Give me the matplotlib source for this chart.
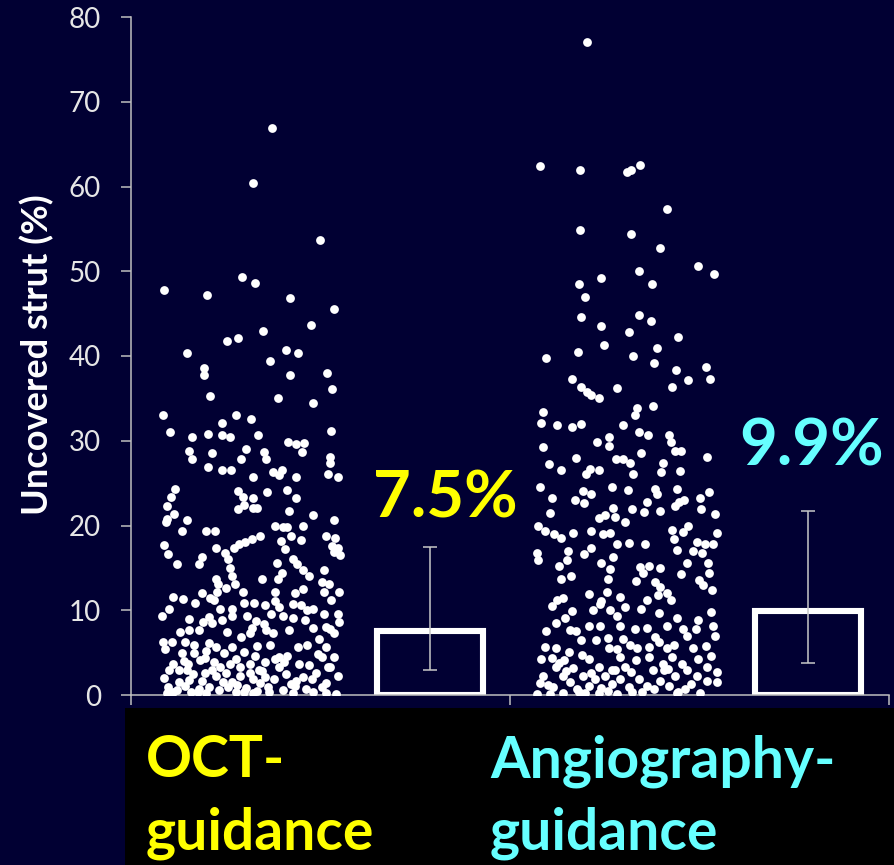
import matplotlib
matplotlib.use("Agg")
import matplotlib.pyplot as plt
from matplotlib.patches import Rectangle

# ---------------- data ----------------
categories = ["OCT-\nguidance", "Angiography-\nguidance"]
bar_values = [7.5, 9.9]
bar_labels = ["7.5%", "9.9%"]
err_low = [2.9, 3.8]
err_high = [17.5, 21.7]
y_ticks = [0, 10, 20, 30, 40, 50, 60, 70, 80]

# OCT-guidance individual values (jitter position within strip 0..1, value %)
oct_jitter = [
    0.617, 0.506, 0.885, 0.446, 0.520, 0.013, 0.252, 0.715, 0.959, 0.833, 0.565, 0.422, 0.363,
    0.141, 0.691, 0.759, 0.604, 0.237, 0.237, 0.715, 0.922, 0.952, 0.267, 0.646,
    0.846, 0.004, 0.415, 0.498, 0.333, 0.944, 0.044, 0.170, 0.254, 0.337, 0.381, 0.535, 0.706,
    0.750, 0.794, 0.780, 0.469, 0.148, 0.281, 0.570, 0.170, 0.443, 0.580, 0.939, 0.939, 0.259,
    0.333, 0.385, 0.619, 0.670, 0.656, 0.928, 0.981, 0.507, 0.750,
    0.074, 0.052, 0.426, 0.589, 0.700, 0.452, 0.507, 0.748, 0.030, 0.459, 0.507, 0.530, 0.426,
    0.707, 0.067, 0.026, 0.022, 0.141, 0.841, 0.959, 0.111, 0.244, 0.296, 0.633, 0.678, 0.700,
    0.787, 0.548, 0.504, 0.463, 0.430, 0.719, 0.774, 0.915, 0.967, 0.663, 0.011, 0.300, 0.400,
    0.685, 0.952, 0.985, 0.963, 0.033, 0.352, 0.996, 0.222, 0.370, 0.733, 0.081, 0.207, 0.644,
    0.752, 0.381, 0.785, 0.670, 0.907, 0.300, 0.393, 0.556, 0.648, 0.819, 0.893, 0.315, 0.407,
    0.933, 0.907, 0.359, 0.307, 0.452, 0.630, 0.789, 0.744, 0.989, 0.059, 0.119, 0.222, 0.267,
    0.289, 0.185, 0.456, 0.515, 0.574, 0.633, 0.656, 0.730, 0.778, 0.811, 0.841, 0.944, 0.041,
    0.322, 0.389, 0.000, 0.148, 0.263, 0.337, 0.389, 0.474, 0.526, 0.567, 0.611, 0.674, 0.730,
    0.800, 0.907, 0.985, 0.226, 0.278, 0.989, 0.504, 0.489, 0.100, 0.152, 0.207, 0.363, 0.441,
    0.581, 0.622, 0.707, 0.841, 0.915, 0.963, 0.941,
    0.007, 0.056, 0.130, 0.181, 0.263, 0.304, 0.393, 0.530, 0.604, 0.759, 0.811, 0.878, 0.915,
    0.015, 0.111, 0.178, 0.248, 0.348, 0.456, 0.522, 0.652, 0.700, 0.874, 0.963, 0.063, 0.144,
    0.211, 0.289, 0.378, 0.411, 0.489, 0.578, 0.633, 0.822, 0.896, 0.926, 0.011, 0.041, 0.096,
    0.174, 0.241, 0.304, 0.359, 0.433, 0.507, 0.574, 0.626, 0.693, 0.785, 0.837, 0.981, 0.941,
    0.033, 0.081, 0.126, 0.159, 0.204, 0.263, 0.319, 0.370, 0.415, 0.470, 0.530, 0.593, 0.674,
    0.741, 0.804, 0.841, 0.970, 0.093, 0.222, 0.389, 0.548, 0.748, 0.915, 0.893,
    0.063, 0.248, 0.340, 0.137, 0.489, 0.656, 0.433, 0.322, 0.767, 0.730, 0.915, 0.507, 0.026,
    0.150, 0.200, 0.280, 0.420, 0.560, 0.600, 0.720, 0.860, 0.120, 0.240, 0.460, 0.540, 0.680,
]
oct_values = [
    66.9, 60.4, 53.7, 49.3, 48.6, 47.8, 47.2, 46.8, 45.5, 43.6, 43.0, 42.1, 41.8,
    40.3, 40.7, 40.3, 39.4, 38.6, 37.8, 37.8, 38.0, 36.1, 35.3, 35.0,
    34.4, 33.0, 33.0, 32.6, 32.1, 31.1, 31.0, 30.4, 30.8, 30.7, 30.5, 30.7, 29.9,
    29.6, 29.7, 28.7, 29.0, 28.8, 28.5, 28.7, 27.8, 27.8, 27.8, 28.1, 27.4, 26.9,
    26.5, 26.5, 26.3, 26.6, 25.9, 26.1, 25.7, 25.7, 25.7,
    24.3, 23.4, 24.1, 23.9, 24.2, 23.4, 23.3, 23.3, 22.3, 22.4, 22.1, 22.1, 21.9,
    21.7, 21.3, 20.8, 20.4, 20.7, 21.2, 20.6, 19.3, 19.3, 19.3, 19.9, 19.8, 19.8,
    19.9, 18.8, 18.4, 18.0, 17.8, 18.8, 18.3, 18.8, 18.5, 18.2, 17.7, 17.4, 17.3,
    17.2, 17.6, 17.3, 16.9, 16.6, 16.7, 16.5, 16.3, 16.0, 16.0, 15.5, 15.5, 15.6,
    15.4, 15.0, 14.8, 14.4, 14.8, 13.7, 14.1, 13.7, 13.7, 14.1, 13.3, 13.1, 13.1,
    13.1, 12.2, 12.6, 12.1, 12.1, 12.1, 12.5, 12.0, 12.1, 11.6, 11.3, 12.0, 11.5,
    11.2, 10.8, 10.9, 10.9, 10.6, 11.1, 10.4, 10.7, 10.6, 10.0, 10.2, 11.2, 10.2,
    10.1, 10.2, 9.3, 9.0, 9.2, 8.9, 9.3, 9.3, 8.7, 8.4, 9.6, 9.3, 9.1,
    8.9, 9.5, 9.6, 8.6, 8.5, 8.6, 7.9, 7.3, 7.4, 7.7, 7.7, 7.4, 6.8,
    7.7, 7.3, 7.7, 7.9, 8.0, 7.3, 7.8,
    6.3, 6.2, 6.2, 5.9, 6.1, 5.7, 5.7, 5.8, 5.9, 5.7, 5.9, 6.6, 5.7,
    5.4, 4.9, 4.9, 5.2, 4.9, 5.1, 4.6, 4.5, 4.6, 4.8, 4.5, 3.7, 3.7,
    4.1, 3.9, 3.7, 4.2, 3.7, 3.9, 4.3, 3.5, 4.5, 3.3, 2.0, 2.9, 3.0,
    2.5, 2.6, 2.2, 2.6, 2.2, 1.9, 2.1, 1.9, 2.5, 2.1, 1.9, 2.3, 3.3,
    1.0, 0.6, 1.1, 0.4, 0.7, 1.0, 0.6, 1.0, 0.4, 0.8, 0.5, 0.9, 0.6,
    1.1, 0.7, 0.4, 0.1, 1.5, 1.7, 1.5, 1.4, 1.7, 1.4, 1.0,
    0.4, 0.2, 1.5, 3.0, 2.6, 3.3, 3.3, 3.3, 3.7, 0.2, 0.2, 0.2, 0.2,
    1.8, 0.3, 2.9, 1.2, 2.8, 0.3, 1.3, 2.6, 4.0, 4.4, 0.3, 3.0, 3.9,
]

# Angiography-guidance individual values
angio_jitter = [
    0.274, 0.015, 0.238, 0.497, 0.519, 0.571, 0.718, 0.238, 0.517, 0.681, 0.890, 0.976, 0.355,
    0.562, 0.230, 0.637, 0.267, 0.245, 0.562, 0.355, 0.630, 0.510, 0.777, 0.370, 0.665, 0.052,
    0.228, 0.532, 0.645, 0.770, 0.934, 0.836, 0.956, 0.193, 0.245, 0.274, 0.297, 0.440, 0.748,
    0.341,
    0.554, 0.643, 0.035, 0.540, 0.024, 0.109, 0.193, 0.241, 0.473, 0.565, 0.613, 0.727, 0.738,
    0.333, 0.400, 0.400, 0.031, 0.761, 0.797, 0.576, 0.215, 0.937, 0.436, 0.477, 0.514, 0.068,
    0.698, 0.134, 0.293, 0.341, 0.271, 0.532, 0.687, 0.790, 0.017, 0.414, 0.503, 0.654, 0.775,
    0.083, 0.208, 0.256, 0.300, 0.260, 0.606, 0.665, 0.786, 0.812, 0.900, 0.948, 0.422, 0.525,
    0.591, 0.680, 0.761, 0.908, 0.072, 0.985, 0.341, 0.378, 0.429, 0.488, 0.006, 0.046, 0.094,
    0.134, 0.200, 0.297, 0.363, 0.403, 0.746, 0.805, 0.834, 0.993, 0.757, 0.444, 0.510, 0.599,
    0.886, 0.930, 0.974, 0.171, 0.260, 0.300, 0.418, 0.772, 0.864, 0.912, 0.002, 0.006, 0.164,
    0.355, 0.569, 0.621, 0.680, 0.827, 0.945, 0.123, 0.403, 0.587, 0.797, 0.952, 0.134, 0.186,
    0.392, 0.547, 0.650, 0.893, 0.680, 0.915, 0.967, 0.720, 0.670, 0.289, 0.385, 0.459, 0.740,
    0.109, 0.145, 0.355, 0.348, 0.610, 0.576, 0.488, 0.083, 0.311, 0.403, 0.193, 0.440, 0.672,
    0.963, 0.156, 0.772, 0.890, 0.105, 0.285, 0.348, 0.459, 0.540, 0.606, 0.716, 0.808, 0.878,
    0.970, 0.050, 0.182, 0.215, 0.241, 0.326, 0.392, 0.477, 0.650, 0.672, 0.827, 0.985, 0.934,
    0.042, 0.105, 0.179, 0.400, 0.444, 0.514, 0.554, 0.621, 0.716, 0.757, 0.864, 0.963, 0.024,
    0.083, 0.149, 0.285, 0.459, 0.547, 0.621, 0.698, 0.746, 0.801, 0.890, 0.937, 0.105, 0.201,
    0.341, 0.414, 0.488, 0.643, 0.724, 0.827, 0.993, 0.035, 0.145, 0.256, 0.322, 0.378, 0.459,
    0.562, 0.680, 0.764, 0.882, 0.941, 0.993, 0.017, 0.090, 0.182, 0.219, 0.289, 0.355, 0.414,
    0.506, 0.606, 0.646, 0.731, 0.816, 0.002, 0.072, 0.145, 0.267, 0.341, 0.440, 0.525, 0.772,
    0.900,
    0.060, 0.160, 0.230, 0.300, 0.390, 0.520, 0.580, 0.700, 0.780, 0.850, 0.120, 0.250, 0.430,
]
angio_values = [
    77.1, 62.4, 62.0, 61.7, 62.0, 62.5, 57.4, 54.9, 54.4, 52.8, 50.6, 49.7, 49.2,
    50.0, 48.5, 48.5, 47.0, 44.6, 44.8, 43.5, 44.1, 42.8, 42.2, 41.3, 40.9, 39.8,
    40.5, 40.0, 39.2, 38.3, 38.7, 37.2, 37.3, 37.3, 36.4, 35.7, 35.4, 36.2, 36.4,
    35.0,
    33.9, 34.1, 33.4, 33.0, 32.1, 31.9, 31.6, 32.0, 31.8, 31.0, 30.7, 30.7, 29.9,
    29.9, 30.5, 29.4, 29.3, 28.8, 28.8, 28.6, 28.0, 28.1, 27.8, 27.8, 27.4, 27.2,
    27.4, 26.6, 26.7, 26.6, 26.1, 26.1, 26.3, 26.4, 24.5, 24.5, 24.2, 24.3, 24.3,
    23.2, 23.0, 24.1, 23.7, 22.6, 22.8, 23.7, 22.8, 23.0, 23.2, 23.9, 22.1, 21.9,
    21.6, 21.7, 22.3, 22.0, 21.5, 21.3, 20.9, 21.2, 21.0, 20.4, 19.9, 19.4, 19.0,
    18.5, 19.1, 19.3, 19.0, 19.1, 19.5, 19.2, 20.0, 19.1, 18.4, 17.8, 17.9, 17.8,
    18.1, 17.8, 17.8, 17.0, 16.6, 17.4, 16.3, 17.1, 17.0, 16.7, 16.7, 15.9, 15.9,
    15.6, 15.1, 15.2, 15.0, 15.6, 15.6, 15.2, 14.9, 14.4, 14.3, 14.4, 13.7, 14.1,
    13.7, 13.5, 13.3, 13.6, 12.8, 13.0, 12.4, 12.0, 11.8, 11.9, 12.1, 11.6, 11.2,
    11.2, 11.4, 11.1, 10.7, 11.2, 10.2, 10.4, 10.5, 10.0, 10.0, 9.9, 9.3, 9.7,
    9.8, 9.1, 9.1, 8.9, 8.5, 8.1, 8.1, 8.1, 7.8, 7.9, 8.1, 7.8, 7.8,
    8.2, 7.5, 7.7, 7.5, 6.5, 6.5, 6.7, 6.6, 6.8, 6.3, 7.0, 7.0, 5.8,
    5.7, 5.5, 5.1, 5.6, 5.4, 5.9, 5.6, 5.7, 5.6, 5.9, 5.6, 4.6, 4.3,
    4.4, 4.1, 4.3, 4.5, 4.1, 4.5, 3.7, 4.5, 3.7, 4.2, 3.3, 3.3, 3.2,
    3.3, 3.0, 3.3, 2.9, 3.1, 2.9, 2.7, 2.3, 2.2, 2.2, 1.9, 2.3, 1.9,
    1.9, 1.7, 2.2, 2.2, 1.6, 1.5, 1.4, 1.0, 1.5, 0.7, 1.1, 0.8, 1.3,
    1.0, 1.1, 0.7, 1.1, 0.7, 0.1, 0.1, 0.2, 0.2, 0.2, 0.1, 0.3, 0.2,
    0.2,
    1.2, 2.8, 0.4, 2.6, 0.5, 2.7, 0.4, 2.9, 0.4, 1.3, 3.8, 4.7, 3.0,
]

# ---------------- style ----------------
BG = "#010033"
AXIS_COL = "#bfbfbf"
TEXT_COL = "#e6e6e6"
YELLOW = "#ffff00"
CYAN = "#66ffff"
FONT = "Lato"

W, H = 894, 865
fig = plt.figure(figsize=(W / 100, H / 100), dpi=100, facecolor=BG)
ax = fig.add_axes([131 / W, (H - 695) / H, (889 - 131) / W, (695 - 17) / H])
ax.set_facecolor(BG)

# scatter strips
strip_left = [0.082, 1.071]
strip_width = [0.472, 0.478]
for (jit, vals), left, width in zip([(oct_jitter, oct_values), (angio_jitter, angio_values)],
                                    strip_left, strip_width):
    xs = [left + j * width for j in jit]
    ax.scatter(xs, vals, s=40, color="white", linewidths=0, zorder=3)

# bars
bar_x = [0.789, 1.786]
ax.bar(bar_x, bar_values, width=0.28, facecolor=BG, edgecolor="white", linewidth=4.4, zorder=2)
ax.errorbar(bar_x, bar_values,
            yerr=[[v - lo for v, lo in zip(bar_values, err_low)],
                  [hi - v for v, hi in zip(bar_values, err_high)]],
            fmt="none", ecolor="#c8c8c8", elinewidth=1.1, capsize=5, capthick=1.1, zorder=4)

# value labels
label_cols = [YELLOW, CYAN]
label_pos = [(0.830, 20.9), (1.795, 27.1)]
for (lx, ly), txt, c in zip(label_pos, bar_labels, label_cols):
    ax.text(lx, ly, txt, color=c, fontsize=47, fontweight="bold", family=FONT,
            ha="center", va="baseline", zorder=5)

ax.set_xlim(0, 2)
ax.set_ylim(0, 80)
ax.set_yticks(y_ticks)
ax.set_yticklabels([str(t) for t in y_ticks], color=TEXT_COL, fontsize=20, family=FONT)
ax.set_xticks([0, 1, 2])
ax.set_xticklabels([])
ax.tick_params(axis="both", colors=AXIS_COL, length=7.5, width=1.1, direction="out")
ax.tick_params(axis="y", pad=14, labelcolor=TEXT_COL)
for s in ["top", "right"]:
    ax.spines[s].set_visible(False)
for s in ["left", "bottom"]:
    ax.spines[s].set_color(AXIS_COL)
    ax.spines[s].set_linewidth(1.1)

fig.text(37 / W, 1 - 355 / H, "Uncovered strut (%)", rotation=90, color="white",
         fontsize=26, fontweight="bold", family=FONT, ha="center", va="center")

# black category box
fig.patches.append(Rectangle((125 / W, 0), 1 - 125 / W, 157 / H, transform=fig.transFigure,
                             facecolor="black", edgecolor="none", zorder=0))
cat_x = [146 / W, 490 / W]
for cx, cat, c in zip(cat_x, categories, label_cols):
    l1, l2 = cat.split("\n")
    fig.text(cx, 1 - 777 / H, l1, color=c, fontsize=41, fontweight="bold", family=FONT,
             ha="left", va="baseline")
    fig.text(cx, 1 - 850 / H, l2, color=c, fontsize=41, fontweight="bold", family=FONT,
             ha="left", va="baseline")

fig.savefig("out.png", dpi=100, facecolor=BG)
